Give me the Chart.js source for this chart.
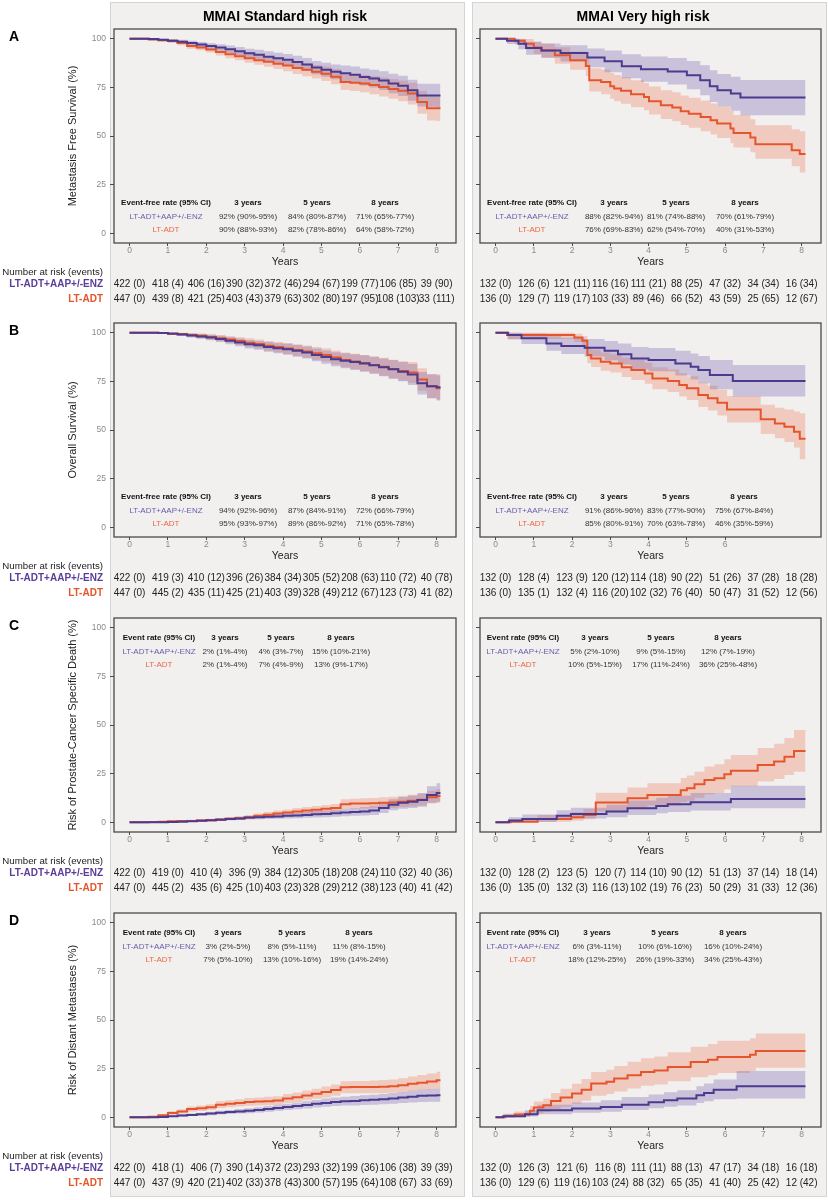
<!DOCTYPE html>
<html>
<head>
<meta charset="utf-8">
<script src="https://cdn.jsdelivr.net/npm/chart.js@4.4.1/dist/chart.umd.min.js"></script>
<style>
  body { margin: 0; background: #fff; width: 828px; height: 1200px; position: relative; overflow: hidden; }
  .box { position: absolute; top: 2px; height: 1195px; width: 355px; background: #f1f0ef; border: 1px solid #d4d4d4; box-sizing: border-box; }
  canvas { position: absolute; }
</style>
</head>
<body>
<div class="box" style="left:110px"></div>
<div class="box" style="left:472px"></div>
<script>
// ---- shared axis values ----
const years = [0, 1, 2, 3, 4, 5, 6, 7, 8];
const yTicks = [0, 25, 50, 75, 100];
const rateYears = ['3 years', '5 years', '8 years'];
const armNames = ['LT-ADT+AAP+/-ENZ', 'LT-ADT'];
// time grid used for the standard high risk curves (years)
const gridStd = [0,0.25,0.5,0.75, 1,1.25,1.5,1.75, 2,2.25,2.5,2.75, 3,3.25,3.5,3.75, 4,4.25,4.5,4.75, 5,5.25,5.5,5.75, 6,6.25,6.5,6.75, 7,7.25,7.5,7.75, 8,8.1];

// ---- A: metastasis free survival, standard high risk ----
const aStdEnz   = [100,100,99.8,99.5, 99,98.5,97.8,97, 96.2,95.5,94.6,93.6, 92.5,91.8,90.8,90, 89.2,88,86.8,85.2, 84,83,82.2,81.5, 80.3,79.5,78.5,77, 75.8,73.5,70.8,70.8, 70.8,70.8];
const aStdEnzLo = [100,99.8,99.4,98.9, 98.2,97.5,96.6,95.7, 94.7,93.8,92.7,91.5, 90.2,89.3,88.1,87.2, 86.2,84.8,83.5,81.8, 80.4,79.2,78.2,77.3, 75.9,74.9,73.7,72, 70.6,68.1,65.2,65, 64.8,64.8];
const aStdEnzHi = [100,100,100,100, 99.8,99.5,99,98.3, 97.7,97.2,96.5,95.7, 94.8,94.3,93.5,92.8, 92.2,91.2,90.1,88.6, 87.6,86.8,86.2,85.7, 84.7,84.1,83.3,82, 81,78.9,76.8,76.8, 76.8,76.8];
const aStdAdt   = [100,100,99.6,99.2, 98.8,97.8,96.2,95.5, 94.5,93.2,92,91, 90,89,88.2,87.2, 86.2,85,84,83, 82,80.5,77.8,77.4, 77,76.2,75.2,74.2, 73.2,71.8,67.5,64.3, 64.3,64.3];
const aStdAdtLo = [100,99.8,99.1,98.5, 97.9,96.7,94.9,94.1, 92.9,91.4,90,88.9, 87.7,86.6,85.6,84.5, 83.3,81.9,80.7,79.5, 78.3,76.6,73.7,73.1, 72.5,71.5,70.3,69.1, 67.9,66.2,61.5,58, 57.7,57.7];
const aStdAdtHi = [100,100,100,99.9, 99.7,98.9,97.5,96.9, 96.1,95,94,93.1, 92.3,91.4,90.8,89.9, 89.1,88.1,87.3,86.5, 85.7,84.4,81.9,81.7, 81.5,80.9,80.1,79.3, 78.5,77.4,73.3,70.4, 70.2,70.2];
const aStdRiskEnz = ['422 (0)','418 (4)','406 (16)','390 (32)','372 (46)','294 (67)','199 (77)','106 (85)','39 (90)'];
const aStdRiskAdt = ['447 (0)','439 (8)','421 (25)','403 (43)','379 (63)','302 (80)','197 (95)','108 (103)','33 (111)'];
const aStdRateEnz = ['92% (90%-95%)','84% (80%-87%)','71% (65%-77%)'];
const aStdRateAdt = ['90% (88%-93%)','82% (78%-86%)','64% (58%-72%)'];

// ---- A: metastasis free survival, very high risk ----
const aVhEnzT   = [0,0.3,0.6,0.8,1.2,1.7,2.4,2.85,3.3,3.8,4.5,5.0,5.35,5.6,5.8,6.15,6.4,8.1];
const aVhEnz    = [100,99,97.4,95.2,94,92.6,90.3,88.4,85.8,84.3,83.2,81.2,78.6,75.6,73.5,71.8,69.8,69.8];
const aVhEnzLo  = [100,97.3,94.6,91.8,90.2,88.3,85.3,82.8,79.7,77.9,76.5,74,70.9,67.5,65.1,63,60.7,60.7];
const aVhEnzHi  = [100,100,99.7,98.4,97.6,96.6,95,93.9,92,90.9,90.1,88.6,86.4,83.8,81.9,80.5,78.8,78.8];
const aVhAdtT   = [0,0.5,0.76,1.0,1.2,1.55,1.95,2.36,2.45,2.76,3.0,3.1,3.28,3.54,3.88,4.01,4.32,4.62,4.84,5.05,5.36,5.62,5.79,6.14,6.22,6.66,6.79,7.74,7.95,8.1];
const aVhAdt    = [100,99,97.4,95.5,94,91.5,88.9,86,78.6,77.7,75.6,74.4,73.2,71.5,70,67.9,65.8,64.6,62.7,61.5,59.8,58.1,56.4,53.8,51.6,49.2,45.8,42.7,40.7,40.7];
const aVhAdtLo  = [100,97,94.6,92.1,90.2,87.2,84.1,80.8,72.9,71.4,69.2,67.9,66.6,64.8,63.2,61,58.8,57.6,55.6,54.3,52.5,50.8,49,46.3,44.1,41.7,38.3,34.5,31.2,31.2];
const aVhAdtHi  = [100,100,99.8,98.5,97.6,95.6,93.4,91,84.8,84.2,82.4,81.3,80.2,78.6,77.3,75.4,73.5,72.5,70.8,69.7,68.2,66.7,65.2,62.8,60.8,58.6,55.5,53.5,52.5,52.5];
const aVhRiskEnz = ['132 (0)','126 (6)','121 (11)','116 (16)','111 (21)','88 (25)','47 (32)','34 (34)','16 (34)'];
const aVhRiskAdt = ['136 (0)','129 (7)','119 (17)','103 (33)','89 (46)','66 (52)','43 (59)','25 (65)','12 (67)'];
const aVhRateEnz = ['88% (82%-94%)','81% (74%-88%)','70% (61%-79%)'];
const aVhRateAdt = ['76% (69%-83%)','62% (54%-70%)','40% (31%-53%)'];

// ---- B: overall survival, standard high risk ----
const bStdEnz   = [100,100,100,99.8, 99.5,99.1,98.6,98.1, 97.5,96.8,95.9,95, 94.1,93.5,92.7,92, 91.5,90.7,89.8,88.6, 87.5,86.4,85.6,84.9, 84.2,83.3,82.2,81.2, 80,78.5,74,72.5, 72,72];
const bStdEnzLo = [100,100,99.8,99.4, 98.9,98.3,97.6,96.9, 96.1,95.2,94.1,93, 91.9,91.2,90.2,89.4, 88.7,87.7,86.7,85.3, 84.1,82.8,81.8,80.9, 80,78.9,77.6,76.4, 75,73.1,68.2,66.3, 65.5,65.5];
const bStdEnzHi = [100,100,100,100, 100,99.9,99.6,99.3, 98.9,98.4,97.7,97, 96.3,95.8,95.2,94.6, 94.3,93.7,92.9,91.9, 90.9,90,89.4,88.9, 88.4,87.7,86.8,86, 85,83.9,79.8,78.7, 78.5,78.5];
const bStdAdt   = [100,100,100,99.8, 99.6,99.3,98.8,98.4, 97.8,97.2,96.5,95.7, 94.9,94.2,93.3,92.6, 91.9,91.1,90.3,89.4, 88.6,87.3,86,85.2, 84.4,83.4,82.5,81.3, 80.3,79.5,76,72.5, 71.5,71.5];
const bStdAdtLo = [100,100,99.8,99.4, 99,98.5,97.8,97.2, 96.4,95.6,94.7,93.7, 92.7,91.9,90.8,90, 89.1,88.1,87.2,86.1, 85.2,83.7,82.2,81.2, 80.2,79,77.9,76.5, 75.3,74.1,70.2,66.3, 65,65];
const bStdAdtHi = [100,100,100,100, 100,100,99.8,99.6, 99.2,98.8,98.3,97.7, 97.1,96.5,95.8,95.2, 94.7,94.1,93.4,92.7, 92,90.9,89.8,89.2, 88.6,87.8,87.1,86.1, 85.3,84.9,81.8,78.7, 78,78];
const bStdRiskEnz = ['422 (0)','419 (3)','410 (12)','396 (26)','384 (34)','305 (52)','208 (63)','110 (72)','40 (78)'];
const bStdRiskAdt = ['447 (0)','445 (2)','435 (11)','425 (21)','403 (39)','328 (49)','212 (67)','123 (73)','41 (82)'];
const bStdRateEnz = ['94% (92%-96%)','87% (84%-91%)','72% (66%-79%)'];
const bStdRateAdt = ['95% (93%-97%)','89% (86%-92%)','71% (65%-78%)'];

// ---- B: overall survival, very high risk ----
const bVhEnzT   = [0,0.33,0.68,1.33,1.72,2.33,2.85,3.2,3.55,4.0,4.7,5.1,5.3,5.6,6.2,8.1];
const bVhEnz    = [100,98.8,97.1,94.5,93.2,92.3,90.8,89,86.8,86,84.2,82.5,80.8,78.3,75.2,75.2];
const bVhEnzLo  = [100,96.5,94.2,90.8,89.1,87.8,85.9,83.7,81.2,80.2,78,76,74,71,67.2,67.2];
const bVhEnzHi  = [100,100,99.6,98.2,97.4,96.8,95.8,94.5,92.7,92.1,90.7,89.3,88,86,83.4,83.4];
const bVhAdtT   = [0,0.3,2.06,2.27,2.4,2.5,2.75,3.0,3.3,3.55,3.9,4.1,4.5,4.8,5.0,5.3,5.55,5.8,6.05,6.93,7.3,7.55,7.8,7.95,8.1];
const bVhAdt    = [100,98.8,97.6,95.9,88.5,86.8,85.1,84.2,82.2,80.8,79.1,76.5,75.2,73.1,71.4,68,66.3,64,60.5,55.5,53.4,51.7,49.1,45.5,45.5];
const bVhAdtLo  = [100,96.8,95.2,93,84.3,82.4,80.5,79.5,77.2,75.7,73.8,71,69.5,67.2,65.4,61.8,60,57.5,53.8,48,45.7,43.8,41,35,35];
const bVhAdtHi  = [100,100,99.5,98.3,92.8,91.3,89.8,89,87.3,86.1,84.6,82.2,81.1,79.2,77.6,74.4,72.8,70.7,67.5,63,61.5,60.5,59.5,58.6,58.6];
const bVhRiskEnz = ['132 (0)','128 (4)','123 (9)','120 (12)','114 (18)','90 (22)','51 (26)','37 (28)','18 (28)'];
const bVhRiskAdt = ['136 (0)','135 (1)','132 (4)','116 (20)','102 (32)','76 (40)','50 (47)','31 (52)','12 (56)'];
const bVhRateEnz = ['91% (86%-96%)','83% (77%-90%)','75% (67%-84%)'];
const bVhRateAdt = ['85% (80%-91%)','70% (63%-78%)','46% (35%-59%)'];
const bVhTicks = [0, 1, 2, 3, 4, 5, 6];

// ---- C: prostate-cancer specific death, standard high risk ----
const cStdEnz   = [0,0,0,0, 0.2,0.3,0.5,0.8, 1,1.3,1.7,2, 2.4,2.6,2.8,3, 3.3,3.5,3.8,4.1, 4.3,4.6,5,5.3, 5.6,6.1,7.4,9, 10,10.5,11.5,14, 15,15];
const cStdEnzLo = [0,0,0,0, 0,0,0.1,0.3, 0.5,0.7,1,1.2, 1.5,1.6,1.7,1.8, 2,2.1,2.3,2.5, 2.6,2.8,3.1,3.3, 3.5,3.8,4.8,6.2, 7,7.3,8,10, 10.5,10.5];
const cStdEnzHi = [0,0,0,0.3, 0.6,0.8,1,1.4, 1.7,2,2.5,2.9, 3.4,3.7,4,4.3, 4.7,5,5.4,5.8, 6.1,6.5,7,7.4, 7.8,8.5,10,11.8, 13,13.7,15,18.5, 20,20];
const cStdAdt   = [0,0,0.2,0.3, 0.5,0.6,0.7,0.9, 1.1,1.4,1.8,2.1, 2.5,3.3,3.9,4.5, 5,5.6,6.1,6.5, 6.9,7.3,9.3,9.6, 9.7,9.8,10,10.2, 10.6,11,11.6,12.8, 13.5,13.5];
const cStdAdtLo = [0,0,0,0, 0.1,0.2,0.2,0.3, 0.5,0.7,1,1.2, 1.5,2.2,2.6,3.1, 3.5,3.9,4.3,4.6, 4.9,5.2,6.9,7.1, 7.1,7.2,7.3,7.4, 7.8,8.1,8.6,9.6, 10,10];
const cStdAdtHi = [0,0,0.5,0.7, 1,1.1,1.3,1.6, 1.8,2.2,2.7,3.1, 3.6,4.5,5.3,6, 6.6,7.3,7.9,8.4, 8.9,9.4,11.8,12.1, 12.3,12.5,12.8,13.1, 13.6,14.1,14.8,16.2, 17,17];
const cStdRiskEnz = ['422 (0)','419 (0)','410 (4)','396 (9)','384 (12)','305 (18)','208 (24)','110 (32)','40 (36)'];
const cStdRiskAdt = ['447 (0)','445 (2)','435 (6)','425 (10)','403 (23)','328 (29)','212 (38)','123 (40)','41 (42)'];
const cStdRateEnz = ['2% (1%-4%)','4% (3%-7%)','15% (10%-21%)'];
const cStdRateAdt = ['2% (1%-4%)','7% (4%-9%)','13% (9%-17%)'];

// ---- C: prostate-cancer specific death, very high risk ----
const cVhEnzT   = [0,0.35,0.7,1.6,1.97,2.9,3.45,4.2,4.5,5.1,6.15,8.1];
const cVhEnz    = [0,0.9,1.7,3.3,4.3,5.5,7.2,8.4,9.2,10.3,12,12];
const cVhEnzLo  = [0,0,0.2,1.2,1.9,2.6,3.8,4.6,5.3,6.1,7.2,7.2];
const cVhEnzHi  = [0,2.6,4,6.2,7.5,9,11.2,12.6,13.6,15,18.8,18.8];
const cVhAdtT   = [0,0.4,1.1,1.98,2.3,2.62,3.45,3.97,4.84,5.0,5.2,5.46,5.72,5.98,6.15,6.85,7.28,7.55,7.8,8.1];
const cVhAdt    = [0,0.3,1.7,2.6,3.8,10.1,12.3,14,16.5,17.5,19.5,21.7,22.6,24.7,26.5,29.5,31.2,33.7,36.6,36.6];
const cVhAdtLo  = [0,0,0.3,0.8,1.5,5.6,7.3,8.6,10.4,11.1,12.6,14.4,15.1,16.9,18.5,21,22.3,24.3,26,26];
const cVhAdtHi  = [0,1.2,3.8,5.2,6.8,15.2,17.9,20,22.8,24,26,28.7,29.8,32.4,34.6,38.2,40.3,43.3,47.4,47.4];
const cVhRiskEnz = ['132 (0)','128 (2)','123 (5)','120 (7)','114 (10)','90 (12)','51 (13)','37 (14)','18 (14)'];
const cVhRiskAdt = ['136 (0)','135 (0)','132 (3)','116 (13)','102 (19)','76 (23)','50 (29)','31 (33)','12 (36)'];
const cVhRateEnz = ['5% (2%-10%)','9% (5%-15%)','12% (7%-19%)'];
const cVhRateAdt = ['10% (5%-15%)','17% (11%-24%)','36% (25%-48%)'];

// ---- D: distant metastases, standard high risk ----
const dStdEnz   = [0,0,0,0.2, 0.5,0.9,1.2,1.5, 1.9,2.3,2.7,3, 3.3,3.8,4.3,4.8, 5.3,5.8,6.3,6.9, 7.4,7.9,8.2,8.4, 8.7,9,9.3,9.7, 10.1,10.6,11,11.2, 11.3,11.3];
const dStdEnzLo = [0,0,0,0, 0.1,0.4,0.6,0.8, 1.1,1.4,1.7,1.9, 2.1,2.5,2.9,3.3, 3.7,4.1,4.5,5, 5.4,5.8,6,6.1, 6.3,6.5,6.7,7, 7.3,7.6,7.9,8, 8,8];
const dStdEnzHi = [0,0,0.3,0.6, 1,1.5,1.9,2.3, 2.8,3.3,3.8,4.2, 4.6,5.2,5.8,6.4, 7,7.6,8.2,8.9, 9.6,10.2,10.6,10.9, 11.3,11.6,12,12.5, 13,13.6,14.1,14.5, 14.8,14.8];
const dStdAdt   = [0,0,0.3,1, 2.2,3,4.2,4.6, 5.2,6.5,7,7.4, 7.9,8.1,8.3,8.6, 9.6,10.3,11.2,12.1, 13,14,15.4,15.5, 15.5,15.6,15.7,16, 16.4,17.2,17.8,18.4, 19,19];
const dStdAdtLo = [0,0,0,0.5, 1.3,1.9,2.9,3.2, 3.7,4.8,5.2,5.5, 5.9,6,6.2,6.4, 7.3,7.9,8.7,9.5, 10.2,11.1,12.3,12.4, 12.3,12.3,12.4,12.6, 12.9,13.5,14,14.4, 14.8,14.8];
const dStdAdtHi = [0,0,0.7,1.6, 3.1,4.1,5.5,6, 6.7,8.2,8.8,9.3, 9.9,10.2,10.5,10.8, 11.9,12.7,13.7,14.7, 15.8,16.9,18.5,18.6, 18.7,18.9,19.1,19.4, 20,21,21.7,22.5, 23.4,23.4];
const dStdRiskEnz = ['422 (0)','418 (1)','406 (7)','390 (14)','372 (23)','293 (32)','199 (36)','106 (38)','39 (39)'];
const dStdRiskAdt = ['447 (0)','437 (9)','420 (21)','402 (33)','378 (43)','300 (57)','195 (64)','108 (67)','33 (69)'];
const dStdRateEnz = ['3% (2%-5%)','8% (5%-11%)','11% (8%-15%)'];
const dStdRateAdt = ['7% (5%-10%)','13% (10%-16%)','19% (14%-24%)'];

// ---- D: distant metastases, very high risk ----
const dVhEnzT   = [0,0.2,0.77,1.1,2.0,2.75,3.3,4.0,4.4,4.75,5.25,5.45,5.7,6.3,8.1];
const dVhEnz    = [0,0.5,1.5,3.6,4.5,5.3,6.5,7.7,8.7,9.6,11.3,12.5,14.2,15.9,15.9];
const dVhEnzLo  = [0,0,0.4,1.6,2.3,2.8,3.7,4.6,5.4,6.1,7.4,8.3,9.3,9.7,9.7];
const dVhEnzHi  = [0,1.8,3.6,6.5,7.6,8.8,10.4,11.7,12.8,13.9,16,17.4,19.4,23.8,23.8];
const dVhAdtT   = [0,0.25,0.5,0.9,1.0,1.25,1.45,1.7,2.0,2.25,2.5,2.9,3.1,3.45,3.8,4.15,4.5,5.1,5.55,5.8,6.65,6.8,8.1];
const dVhAdt    = [0,0.5,1.4,3.3,5,6.2,8.4,10.1,12.2,14.2,17.3,18.2,19.9,21.6,23.3,24.1,25.9,28.4,29.6,31,32.2,34.1,34.1];
const dVhAdtLo  = [0,0,0.2,1,2,2.8,4.2,5.4,7,8.5,11.1,11.9,13.3,14.8,16.2,16.9,18.5,20.6,21.6,22.8,23.8,25.5,25.5];
const dVhAdtHi  = [0,1.5,3,5.8,8.1,9.7,12.5,14.6,17.2,19.7,23.3,24.4,26.4,28.5,30.4,31.3,33.4,36.3,37.7,39.3,40.6,43,43];
const dVhRiskEnz = ['132 (0)','126 (3)','121 (6)','116 (8)','111 (11)','88 (13)','47 (17)','34 (18)','16 (18)'];
const dVhRiskAdt = ['136 (0)','129 (6)','119 (16)','103 (24)','88 (32)','65 (35)','41 (40)','25 (42)','12 (42)'];
const dVhRateEnz = ['6% (3%-11%)','10% (6%-16%)','16% (10%-24%)'];
const dVhRateAdt = ['18% (12%-25%)','26% (19%-33%)','34% (25%-43%)'];

// ---- styling ----
const FONT = '"Liberation Sans", Arial, Helvetica, sans-serif';
const PURPLE = '#4b3a8e';
const ORANGE = '#e5552c';
const PURPLE_BAND = 'rgba(108, 88, 168, 0.30)';
const ORANGE_BAND = 'rgba(238, 116, 80, 0.30)';
Chart.defaults.font.family = FONT;

const panels = [
  { top: 0, left: true, letter: 'A', title: 'MMAI Standard high risk', titleX: 285, yTitle: 'Metastasis Free Survival (%)',
    enzT: gridStd, enz: aStdEnz, enzLo: aStdEnzLo, enzHi: aStdEnzHi, adtT: gridStd, adt: aStdAdt, adtLo: aStdAdtLo, adtHi: aStdAdtHi,
    riskEnz: aStdRiskEnz, riskAdt: aStdRiskAdt, head: 'Event-free rate (95% CI)', rateEnz: aStdRateEnz, rateAdt: aStdRateAdt,
    rateY: 203, cols: [166, 248, 317, 385], xTicks: years },
  { top: 0, left: false, title: 'MMAI Very high risk', titleX: 643,
    enzT: aVhEnzT, enz: aVhEnz, enzLo: aVhEnzLo, enzHi: aVhEnzHi, adtT: aVhAdtT, adt: aVhAdt, adtLo: aVhAdtLo, adtHi: aVhAdtHi,
    riskEnz: aVhRiskEnz, riskAdt: aVhRiskAdt, head: 'Event-free rate (95% CI)', rateEnz: aVhRateEnz, rateAdt: aVhRateAdt,
    rateY: 203, cols: [532, 614, 676, 745], xTicks: years },
  { top: 294, left: true, letter: 'B', yTitle: 'Overall Survival (%)',
    enzT: gridStd, enz: bStdEnz, enzLo: bStdEnzLo, enzHi: bStdEnzHi, adtT: gridStd, adt: bStdAdt, adtLo: bStdAdtLo, adtHi: bStdAdtHi,
    riskEnz: bStdRiskEnz, riskAdt: bStdRiskAdt, head: 'Event-free rate (95% CI)', rateEnz: bStdRateEnz, rateAdt: bStdRateAdt,
    rateY: 203, cols: [166, 248, 317, 385], xTicks: years },
  { top: 294, left: false,
    enzT: bVhEnzT, enz: bVhEnz, enzLo: bVhEnzLo, enzHi: bVhEnzHi, adtT: bVhAdtT, adt: bVhAdt, adtLo: bVhAdtLo, adtHi: bVhAdtHi,
    riskEnz: bVhRiskEnz, riskAdt: bVhRiskAdt, head: 'Event-free rate (95% CI)', rateEnz: bVhRateEnz, rateAdt: bVhRateAdt,
    rateY: 203, cols: [532, 614, 676, 744], xTicks: bVhTicks },
  { top: 589, left: true, letter: 'C', yTitle: 'Risk of Prostate-Cancer Specific Death (%)',
    enzT: gridStd, enz: cStdEnz, enzLo: cStdEnzLo, enzHi: cStdEnzHi, adtT: gridStd, adt: cStdAdt, adtLo: cStdAdtLo, adtHi: cStdAdtHi,
    riskEnz: cStdRiskEnz, riskAdt: cStdRiskAdt, head: 'Event rate (95% CI)', rateEnz: cStdRateEnz, rateAdt: cStdRateAdt,
    rateY: 49, cols: [159, 225, 281, 341], xTicks: years },
  { top: 589, left: false,
    enzT: cVhEnzT, enz: cVhEnz, enzLo: cVhEnzLo, enzHi: cVhEnzHi, adtT: cVhAdtT, adt: cVhAdt, adtLo: cVhAdtLo, adtHi: cVhAdtHi,
    riskEnz: cVhRiskEnz, riskAdt: cVhRiskAdt, head: 'Event rate (95% CI)', rateEnz: cVhRateEnz, rateAdt: cVhRateAdt,
    rateY: 49, cols: [523, 595, 661, 728], xTicks: years },
  { top: 884, left: true, letter: 'D', yTitle: 'Risk of Distant Metastases (%)',
    enzT: gridStd, enz: dStdEnz, enzLo: dStdEnzLo, enzHi: dStdEnzHi, adtT: gridStd, adt: dStdAdt, adtLo: dStdAdtLo, adtHi: dStdAdtHi,
    riskEnz: dStdRiskEnz, riskAdt: dStdRiskAdt, head: 'Event rate (95% CI)', rateEnz: dStdRateEnz, rateAdt: dStdRateAdt,
    rateY: 49, cols: [159, 228, 292, 359], xTicks: years },
  { top: 884, left: false,
    enzT: dVhEnzT, enz: dVhEnz, enzLo: dVhEnzLo, enzHi: dVhEnzHi, adtT: dVhAdtT, adt: dVhAdt, adtLo: dVhAdtLo, adtHi: dVhAdtHi,
    riskEnz: dVhRiskEnz, riskAdt: dVhRiskAdt, head: 'Event rate (95% CI)', rateEnz: dVhRateEnz, rateAdt: dVhRateAdt,
    rateY: 49, cols: [523, 597, 665, 733], xTicks: years }
];

function pts(t, v) {
  return t.map((x, i) => ({ x: x, y: v[i] }));
}

// frame, titles, event-rate table and number-at-risk table
function drawExtras(chart, p) {
  const ctx = chart.ctx;
  const a = chart.chartArea;
  const xs = chart.scales.x;
  const ox = p.left ? 0 : 464;
  ctx.save();
  ctx.strokeStyle = '#4a4a4a';
  ctx.lineWidth = 1.3;
  ctx.strokeRect(a.left, a.top, a.right - a.left, a.bottom - a.top);

  ctx.textBaseline = 'middle';
  ctx.fillStyle = '#000';
  if (p.letter) {
    ctx.font = 'bold 14px ' + FONT;
    ctx.textAlign = 'left';
    ctx.fillText(p.letter, 9, 37);
  }
  if (p.title) {
    ctx.font = 'bold 14px ' + FONT;
    ctx.textAlign = 'center';
    ctx.fillText(p.title, p.titleX - ox, 17);
  }

  // event-rate table inside the plot
  ctx.textAlign = 'center';
  ctx.font = 'bold 8px ' + FONT;
  ctx.fillStyle = '#111';
  [p.head].concat(rateYears).forEach((s, i) => ctx.fillText(s, p.cols[i] - ox, p.rateY));
  ctx.font = '8px ' + FONT;
  ctx.fillStyle = '#6a5cab';
  ctx.fillText(armNames[0], p.cols[0] - ox, p.rateY + 13.5);
  ctx.fillStyle = '#ea6841';
  ctx.fillText(armNames[1], p.cols[0] - ox, p.rateY + 27);
  ctx.fillStyle = '#333';
  p.rateEnz.forEach((s, i) => ctx.fillText(s, p.cols[i + 1] - ox, p.rateY + 13.5));
  p.rateAdt.forEach((s, i) => ctx.fillText(s, p.cols[i + 1] - ox, p.rateY + 27));

  // number at risk
  if (p.left) {
    ctx.textAlign = 'right';
    ctx.font = '9.7px ' + FONT;
    ctx.fillStyle = '#222';
    ctx.fillText('Number at risk (events)', 103, 272);
    ctx.font = 'bold 10px ' + FONT;
    ctx.fillStyle = '#5b3e99';
    ctx.fillText(armNames[0], 103, 284);
    ctx.fillStyle = ORANGE;
    ctx.fillText(armNames[1], 103, 299);
  }
  ctx.textAlign = 'center';
  ctx.font = '10px ' + FONT;
  ctx.fillStyle = '#222';
  years.forEach((yr, i) => {
    const x = xs.getPixelForValue(yr);
    ctx.fillText(p.riskEnz[i], x, 284);
    ctx.fillText(p.riskAdt[i], x, 299);
  });
  ctx.restore();
}

panels.forEach(p => {
  const canvas = document.createElement('canvas');
  canvas.width = p.left ? 464 : 364;
  canvas.height = 310;
  canvas.style.left = (p.left ? 0 : 464) + 'px';
  canvas.style.top = p.top + 'px';
  document.body.appendChild(canvas);

  const band = { borderColor: 'rgba(0,0,0,0)', borderWidth: 0, pointRadius: 0, stepped: true, order: 2 };
  new Chart(canvas, {
    type: 'line',
    data: {
      datasets: [
        Object.assign({ data: pts(p.enzT, p.enzHi), fill: '+1', backgroundColor: PURPLE_BAND }, band),
        Object.assign({ data: pts(p.enzT, p.enzLo), fill: false }, band),
        Object.assign({ data: pts(p.adtT, p.adtHi), fill: '+1', backgroundColor: ORANGE_BAND }, band),
        Object.assign({ data: pts(p.adtT, p.adtLo), fill: false }, band),
        { data: pts(p.adtT, p.adt), borderColor: ORANGE, borderWidth: 2, pointRadius: 0, stepped: true, fill: false, order: 1 },
        { data: pts(p.enzT, p.enz), borderColor: PURPLE, borderWidth: 2, pointRadius: 0, stepped: true, fill: false, order: 0 }
      ]
    },
    options: {
      responsive: false,
      animation: false,
      events: [],
      layout: { padding: { left: p.left ? 62 : 0, right: p.left ? 8 : 7, top: 29, bottom: 42 } },
      plugins: { legend: { display: false }, tooltip: { enabled: false } },
      scales: {
        x: {
          type: 'linear', min: -0.405, max: 8.505,
          afterBuildTicks: s => { s.ticks = p.xTicks.map(v => ({ value: v })); },
          afterFit: s => { s.height = 25; },
          grid: { drawOnChartArea: false, tickLength: 3, color: '#4a4a4a' },
          border: { display: false },
          ticks: { color: '#8a8a8a', font: { size: 8.5 }, padding: 0, maxRotation: 0, autoSkip: false },
          title: { display: true, text: 'Years', color: '#222', font: { size: 10.5 }, padding: 0 }
        },
        y: {
          min: -5, max: 105,
          afterBuildTicks: s => { s.ticks = yTicks.map(v => ({ value: v })); },
          afterFit: s => { s.width = p.left ? 52 : 16; },
          grid: { drawOnChartArea: false, tickLength: 4, color: '#4a4a4a' },
          border: { display: false },
          ticks: { display: p.left, color: '#8a8a8a', font: { size: 8.5 }, padding: 4 },
          title: { display: p.left, text: p.yTitle || '', color: '#222', font: { size: 11 }, padding: { top: 4, bottom: 0 } }
        }
      }
    },
    plugins: [{ id: 'extras', afterDraw: chart => drawExtras(chart, p) }]
  });
});
</script>
</body>
</html>
